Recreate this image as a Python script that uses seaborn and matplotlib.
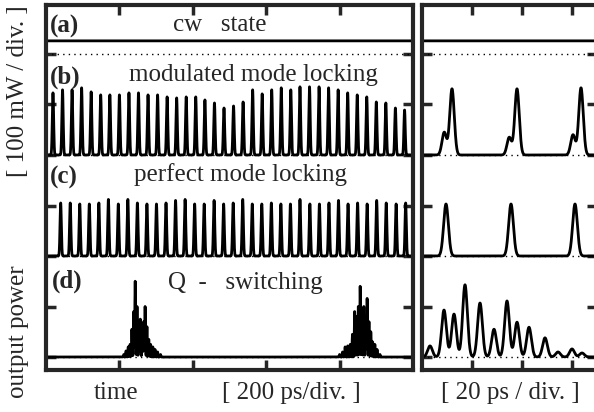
import numpy as np
import pandas as pd
import matplotlib
matplotlib.use("Agg")
import matplotlib.pyplot as plt
import seaborn as sns

# zero levels of the four traces, in divisions (a, b, c, d)
levels = [6, 4, 2, 0]
cw_level = 0.26

# left panel (time axis in ps, 200 ps/div), heights in divisions
b_times = [19, 45, 71, 97, 123, 149, 174, 200, 226, 252,
           278, 304, 330, 356, 382, 408, 433, 459, 485, 511,
           537, 563, 589, 615, 641, 667, 692, 718, 744, 770,
           796, 822, 848, 874, 900, 926, 952, 977]
b_heights = [1.23, 1.29, 1.29, 1.33, 1.25, 1.19, 1.19, 1.19, 1.23, 1.23,
             1.19, 1.19, 1.15, 1.13, 1.15, 1.15, 1.09, 1.03, 0.93, 0.97,
             1.05, 1.29, 1.21, 1.29, 1.33, 1.29, 1.35, 1.35, 1.35, 1.33,
             1.29, 1.23, 1.19, 1.15, 1.05, 1.03, 0.93, 0.89]

c_times = [40, 66, 92, 118, 144, 170, 197, 223, 249, 275,
           301, 327, 353, 379, 405, 431, 458, 484, 510, 536,
           562, 588, 614, 640, 666, 692, 719, 745, 771, 797,
           823, 849, 875, 901, 927, 954, 980]
c_heights = [1.05, 1.05, 1.03, 1.03, 1.05, 1.12, 1.03, 1.12, 1.05, 1.03,
             1.03, 1.05, 1.10, 1.12, 1.03, 1.03, 1.10, 1.03, 1.05, 1.12,
             1.03, 1.03, 1.05, 1.03, 1.03, 1.12, 1.03, 1.03, 1.05, 1.10,
             1.03, 1.05, 1.03, 1.10, 1.05, 1.03, 1.05]

q1_times = [212, 218, 224, 229, 234, 239, 243, 248, 253, 257,
            262, 266, 270, 275, 280, 285, 291, 297, 304, 312]
q1_heights = [0.05, 0.12, 0.20, 0.25, 0.55, 0.90, 1.50, 1.00, 0.70, 0.75,
              0.60, 0.70, 1.00, 0.60, 0.35, 0.25, 0.20, 0.15, 0.10, 0.05]
q2_times = [800, 808, 815, 822, 829, 835, 841, 846, 851, 856,
            861, 866, 871, 875, 880, 885, 890, 896, 902, 910]
q2_heights = [0.05, 0.10, 0.20, 0.22, 0.25, 0.45, 0.90, 0.80, 1.00, 1.40,
              0.90, 1.00, 0.80, 1.16, 0.70, 0.50, 0.30, 0.25, 0.15, 0.05]

# right panel (20 ps/div)
rb_times = [8.9, 12.0, 34.9, 38.0, 60.4, 63.6]
rb_heights = [0.45, 1.31, 0.35, 1.31, 0.40, 1.33]
rc_times = [9.6, 35.6, 61.2]
rc_heights = [1.03, 1.03, 1.03]
rd_times = [3.2, 8.8, 12.8, 17.2, 23.2, 28.8, 34.0, 38.0, 42.8, 49.2, 54.4, 60.0, 64.0]
rd_heights = [0.22, 0.93, 0.85, 1.43, 1.07, 0.55, 1.11, 0.69, 0.59, 0.38, 0.10, 0.16, 0.08]


def pulses(t, centers, heights, sigma):
    y = np.zeros_like(t)
    for c, h in zip(centers, heights):
        y += h * np.exp(-0.5 * ((t - c) / sigma) ** 2)
    return y


sns.set_style("ticks")
plt.rcParams["font.family"] = ["Liberation Serif", "DejaVu Serif"]

fig = plt.figure(figsize=(5.94, 4.12), dpi=100)
W, H = 594, 412
ax1 = fig.add_axes([46 / W, 42 / H, 367 / W, 365 / H])
ax2 = fig.add_axes([422 / W, 42 / H, 175 / W, 365 / H])

t1 = np.linspace(0, 1000, 20001)
t2 = np.linspace(0, 70, 2801)

left = [
    np.full_like(t1, cw_level),
    pulses(t1, b_times, b_heights, 1.8),
    pulses(t1, c_times, c_heights, 1.8),
    pulses(t1, q1_times + q2_times, q1_heights + q2_heights, 0.9),
]
right = [
    np.full_like(t2, cw_level),
    pulses(t2, rb_times, rb_heights, 0.9),
    pulses(t2, rc_times, rc_heights, 0.95),
    pulses(t2, rd_times, rd_heights, 0.95),
]

for ax, t, traces in [(ax1, t1, left), (ax2, t2, right)]:
    for lev, y in zip(levels, traces):
        ax.axhline(lev, color="k", lw=1, ls=(0, (1, 3)), zorder=1)
        df = pd.DataFrame({"t": t, "p": y + lev})
        sns.lineplot(data=df, x="t", y="p", ax=ax, color="k", lw=2.0,
                     estimator=None, sort=False, zorder=2)
    ax.set_ylim(-0.257, 6.97)
    ax.set_yticks(levels + [1, 3, 5])
    ax.set_xlabel("")
    ax.set_ylabel("")
    ax.tick_params(direction="in", length=7, width=2.5, top=True, right=True,
                   labelleft=False, labelbottom=False)
    for s in ax.spines.values():
        s.set_linewidth(3)
        s.set_visible(True)

ax1.set_xlim(0, 1000)
ax1.set_xticks([200, 400, 600, 800])
ax2.set_xlim(0, 70)
ax2.set_xticks([20, 40, 60])


def ftext(x, y, s, **kw):
    fig.text(x / W, 1 - y / H, s, fontsize=18, va="center", **kw)


ftext(50, 26, "(a)", weight="bold")
ftext(220, 25, "cw   state", ha="center")
ftext(50, 77, "(b)", weight="bold")
ftext(253, 75, "modulated mode locking", ha="center")
ftext(50, 177, "(c)", weight="bold")
ftext(240, 175, "perfect mode locking", ha="center")
ftext(52, 281, "(d)", weight="bold")
ftext(245, 283, "Q  -   switching", ha="center")

ftext(116, 393, "time", ha="center")
ftext(291, 393, "[ 200 ps/div. ]", ha="center")
ftext(510, 393, "[ 20 ps / div. ]", ha="center")

fig.text(18 / W, 1 - 398 / H, "output power", fontsize=18, rotation=90,
         ha="center", va="bottom")
fig.text(18 / W, 1 - 5 / H, "[ 100 mW / div. ]", fontsize=18, rotation=90,
         ha="center", va="top")

fig.savefig("out.png", dpi=100)
